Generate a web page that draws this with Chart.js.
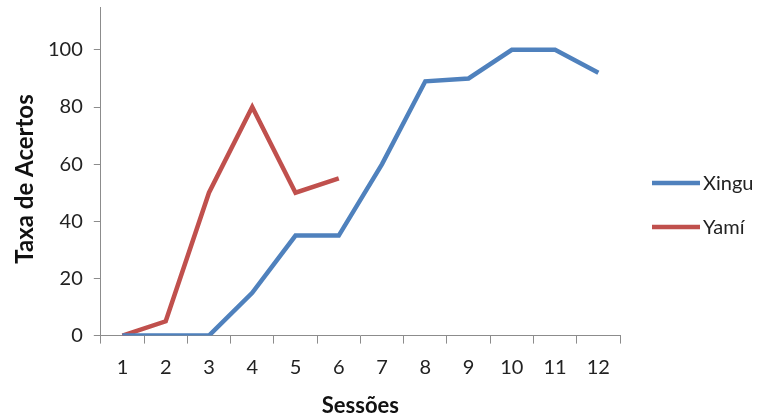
<!DOCTYPE html>
<html>
<head>
<meta charset="utf-8">
<script src="https://cdn.jsdelivr.net/npm/chart.js@4"></script>
<style>
  html, body { margin: 0; padding: 0; background: #ffffff; }
  #wrap { width: 759px; height: 419px; }
</style>
</head>
<body>
<div id="wrap"><canvas id="c" width="759" height="419"></canvas></div>
<script>
// Sessões 1–12
const sessions = ['1', '2', '3', '4', '5', '6', '7', '8', '9', '10', '11', '12'];
// Taxa de acertos (%) por participante
const xinguValues = [0, 0, 0, 15, 35, 35, 60, 89, 90, 100, 100, 92];
const yamiValues = [0, 5, 50, 80, 50, 55, null, null, null, null, null, null];
const seriesNames = ['Xingu', 'Yamí'];
const yTicks = [0, 20, 40, 60, 80, 100];
const yTitle = 'Taxa de Acertos';

const FONT = 'Lato, "Open Sans", sans-serif';
const AXIS = '#8c8c8c';

// Legend at the right with long line samples, plus the rotated y-axis title
const sideDecor = {
  id: 'sideDecor',
  afterDraw(chart) {
    const ctx = chart.ctx;
    const rows = [183, 227];
    ctx.save();
    chart.data.datasets.forEach((ds, i) => {
      const y = rows[i];
      ctx.strokeStyle = ds.borderColor;
      ctx.lineWidth = 4.5;
      ctx.beginPath();
      ctx.moveTo(652, y);
      ctx.lineTo(700, y);
      ctx.stroke();
      ctx.fillStyle = '#222';
      ctx.font = '20px ' + FONT;
      ctx.textBaseline = 'middle';
      ctx.textAlign = 'left';
      ctx.fillText(ds.label, 703, y + 1);
    });
    ctx.translate(25, 179);
    ctx.rotate(-Math.PI / 2);
    ctx.fillStyle = '#111';
    ctx.font = 'bold 24px ' + FONT;
    ctx.textAlign = 'center';
    ctx.textBaseline = 'middle';
    ctx.fillText(yTitle, 0, 0);
    ctx.restore();
  }
};

new Chart(document.getElementById('c'), {
  type: 'line',
  data: {
    labels: sessions,
    datasets: [
      { label: seriesNames[0], data: xinguValues, borderColor: '#4f81bd', backgroundColor: '#4f81bd',
        borderWidth: 4.5, pointRadius: 0, tension: 0, spanGaps: false },
      { label: seriesNames[1], data: yamiValues, borderColor: '#c0504d', backgroundColor: '#c0504d',
        borderWidth: 4.5, pointRadius: 0, tension: 0, spanGaps: false }
    ]
  },
  options: {
    responsive: false,
    animation: false,
    layout: { padding: { top: 7, right: 139, left: 37, bottom: 0 } },
    plugins: { legend: { display: false }, tooltip: { enabled: false } },
    scales: {
      x: {
        offset: true,
        grid: { display: true, offset: true, drawOnChartArea: false, drawTicks: true, tickLength: 8, color: AXIS, lineWidth: 1 },
        border: { display: true, color: AXIS, width: 1 },
        ticks: { color: '#222', font: { family: FONT, size: 20 }, padding: 12, maxRotation: 0 },
        title: { display: true, text: 'Sessões', color: '#111', font: { family: FONT, size: 22, weight: 'bold' }, padding: { top: 1, bottom: 0 } }
      },
      y: {
        min: 0,
        max: 115,
        afterBuildTicks(scale) { scale.ticks = yTicks.map(v => ({ value: v })); },
        afterFit(scale) { scale.paddingTop = 0; },
        grid: { display: true, drawOnChartArea: false, drawTicks: true, tickLength: 7, color: AXIS, lineWidth: 1 },
        border: { display: true, color: AXIS, width: 1 },
        ticks: { color: '#222', font: { family: FONT, size: 20 }, padding: 11 },
        title: { display: false }
      }
    }
  },
  plugins: [sideDecor]
});
</script>
</body>
</html>
